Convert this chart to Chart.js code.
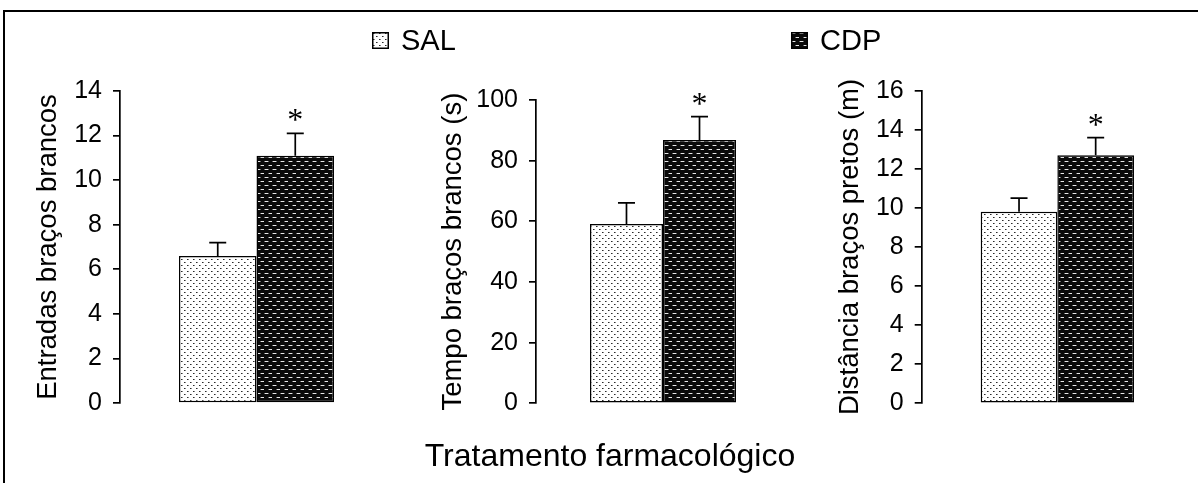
<!DOCTYPE html>
<html>
<head>
<meta charset="utf-8">
<script src="https://cdn.jsdelivr.net/npm/chart.js@4/dist/chart.umd.min.js"></script>
<style>
  html, body { margin: 0; padding: 0; background: #fff; }
  #fig { position: relative; width: 1198px; height: 483px; overflow: hidden;
         font-family: "Liberation Sans", Arial, sans-serif; color: #000; }
  #frame { position: absolute; left: 3px; top: 10px; width: 1400px; height: 700px;
           border-top: 2px solid #000; border-left: 2px solid #000; }
  canvas.panel { position: absolute; top: 0; }
  .legend-item { position: absolute; top: 25px; height: 31px; font-size: 29px; line-height: 31px; white-space: nowrap; }
  .legend-item canvas { position: absolute; top: 7px; left: 0; }
  .legend-item span { position: absolute; left: 29px; top: 0; }
  #xtitle { position: absolute; left: 610px; top: 439px; transform: translateX(-50%);
            font-size: 32px; line-height: 32px; white-space: nowrap; }
</style>
</head>
<body>
<div id="fig">
  <div id="frame"></div>
  <canvas id="c1" class="panel" width="400" height="483" style="left:0px"></canvas>
  <canvas id="c2" class="panel" width="400" height="483" style="left:400px"></canvas>
  <canvas id="c3" class="panel" width="398" height="483" style="left:800px"></canvas>
  <div class="legend-item" style="left:372px"><canvas id="swSAL" width="17" height="17"></canvas><span>SAL</span></div>
  <div class="legend-item" style="left:791px"><canvas id="swCDP" width="17" height="17"></canvas><span>CDP</span></div>
  <div id="xtitle">Tratamento farmacológico</div>
</div>
<script>
// Treatment groups
const groups = ['SAL', 'CDP'];

// Entries into the white arms (mean, SEM)
const entradasMean = [6.6, 11.1];
const entradasSem  = [0.6, 1.0];

// Time spent in the white arms, seconds (mean, SEM)
const tempoMean = [59.1, 86.8];
const tempoSem  = [7.0, 7.7];

// Distance travelled in the black arms, metres (mean, SEM)
const distanciaMean = [9.8, 12.7];
const distanciaSem  = [0.7, 0.9];

// Significance marks per group
const significance = ['', '*'];

// Axis titles and tick ranges
const axisTitles = ['Entradas braços brancos', 'Tempo braços brancos (s)', 'Distância braços pretos (m)'];
const axisMax  = [14, 100, 16];
const axisStep = [2, 20, 2];

const FONT = '"Liberation Sans", Arial, sans-serif';

// Fill patterns for the two groups
function makeDotPattern() {
  const c = document.createElement('canvas');
  c.width = 6; c.height = 6;
  const g = c.getContext('2d');
  g.fillStyle = '#fff'; g.fillRect(0, 0, 6, 6);
  g.fillStyle = '#8a8a8a';
  g.fillRect(1, 1, 2, 1); g.fillRect(4, 4, 2, 1);
  g.fillStyle = '#2a2a2a';
  g.fillRect(1, 1, 1, 1); g.fillRect(4, 4, 1, 1);
  return g.createPattern(c, 'repeat');
}
function makeDashPattern() {
  const c = document.createElement('canvas');
  c.width = 8; c.height = 8;
  const g = c.getContext('2d');
  g.fillStyle = '#0a0a0a'; g.fillRect(0, 0, 8, 8);
  g.fillStyle = '#6a6a6a';
  g.fillRect(0, 1, 5, 1); g.fillRect(4, 5, 5, 1);
  g.fillStyle = '#e8e8e8';
  g.fillRect(1, 1, 3, 1); g.fillRect(5, 5, 3, 1);
  return g.createPattern(c, 'repeat');
}
const fills = [makeDotPattern(), makeDashPattern()];

// Legend swatches
['swSAL', 'swCDP'].forEach((id, i) => {
  const g = document.getElementById(id).getContext('2d');
  g.fillStyle = fills[i];
  g.fillRect(0, 0, 17, 17);
  g.strokeStyle = '#000'; g.lineWidth = 1.5;
  g.strokeRect(0.75, 0.75, 15.5, 15.5);
});

// Upper error whiskers and significance marks
const errorBarPlugin = {
  id: 'errorBars',
  afterDatasetsDraw(chart) {
    const { ctx } = chart;
    const yScale = chart.scales.y;
    chart.data.datasets.forEach((ds, i) => {
      const meta = chart.getDatasetMeta(i);
      meta.data.forEach((bar, j) => {
        const top = yScale.getPixelForValue(ds.data[j] + ds.sem[j]);
        ctx.save();
        ctx.strokeStyle = '#000';
        ctx.lineWidth = 1.7;
        ctx.beginPath();
        ctx.moveTo(bar.x, bar.y);
        ctx.lineTo(bar.x, top);
        ctx.moveTo(bar.x - 8.5, top);
        ctx.lineTo(bar.x + 8.5, top);
        ctx.stroke();
        if (ds.mark) {
          ctx.fillStyle = '#000';
          ctx.font = '32px "Liberation Serif", "Times New Roman", serif';
          ctx.textAlign = 'center';
          ctx.textBaseline = 'alphabetic';
          ctx.fillText(ds.mark, bar.x, top - 3);
        }
        ctx.restore();
      });
    });
  }
};

function makePanel(id, idx, means, sems, layout) {
  const datasets = groups.map((g, k) => ({
    label: g,
    data: [means[k]],
    sem: [sems[k]],
    mark: significance[k],
    backgroundColor: fills[k],
    borderColor: '#000',
    borderWidth: 1.5,
    borderSkipped: false,
    barPercentage: 1.0,
    categoryPercentage: layout.cp
  }));
  return new Chart(document.getElementById(id), {
    type: 'bar',
    data: { labels: [''], datasets },
    plugins: [errorBarPlugin],
    options: {
      responsive: false,
      animation: false,
      events: [],
      layout: { padding: layout.padding },
      plugins: { legend: { display: false }, tooltip: { enabled: false } },
      scales: {
        x: { display: false },
        y: {
          min: 0,
          max: axisMax[idx],
          ticks: { stepSize: axisStep[idx], color: '#000', padding: 11,
                   font: { family: FONT, size: 25 } },
          grid: { drawOnChartArea: false, drawTicks: true, tickLength: 7,
                  color: '#000', lineWidth: 1.7 },
          border: { display: true, color: '#000', width: 1.7 },
          title: { display: true, text: axisTitles[idx], color: '#000', padding: 0,
                   font: { family: FONT, size: 27.5 } },
          afterFit(scale) { scale.width = layout.axisWidth; }
        }
      }
    }
  });
}

makePanel('c1', 0, entradasMean, entradasSem,
  { cp: 0.568, axisWidth: 88, padding: { left: 32, right: 7, top: 91, bottom: 80 } });
makePanel('c2', 1, tempoMean, tempoSem,
  { cp: 0.575, axisWidth: 99.5, padding: { left: 36.5, right: 10, top: 100, bottom: 79.7 } });
makePanel('c3', 2, distanciaMean, distanciaSem,
  { cp: 0.565, axisWidth: 88.2, padding: { left: 33.5, right: 5, top: 90.7, bottom: 79.7 } });
</script>
</body>
</html>
